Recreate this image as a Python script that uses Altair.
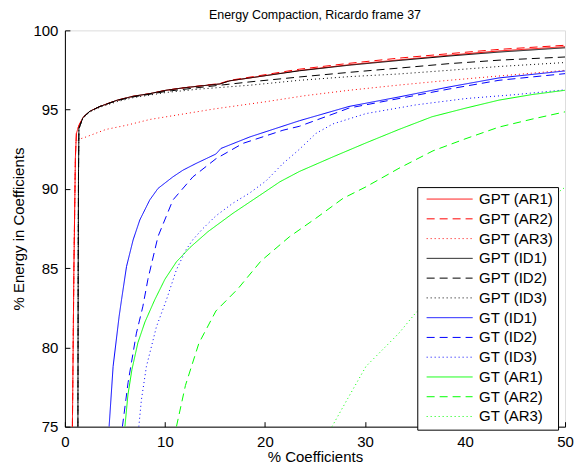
import altair as alt
import pandas as pd

names = ["GPT (AR1)", "GPT (AR2)", "GPT (AR3)", "GPT (ID1)", "GPT (ID2)", "GPT (ID3)",
         "GT (ID1)", "GT (ID2)", "GT (ID3)", "GT (AR1)", "GT (AR2)", "GT (AR3)"]
colors = ["#ff0000", "#ff0000", "#ff0000", "#000000", "#000000", "#000000",
          "#0000ff", "#0000ff", "#0000ff", "#00ff00", "#00ff00", "#00ff00"]
dashes = [[1, 0], [8, 5], [1, 3]] * 4

gpt_ar1_x = [0.75, 0.9, 1.05, 1.15, 1.4, 1.8, 2.5, 3.5, 5.2, 6.8, 8.5, 10.1, 11.8, 13.5, 15.5, 16.5, 18.5, 23.45, 28.4, 33.4, 38.4, 43.4, 50]
gpt_ar1_y = [75, 85, 92, 93.5, 94.0, 94.5, 94.9, 95.2, 95.59, 95.84, 96.01, 96.22, 96.37, 96.49, 96.62, 96.82, 97.0, 97.47, 97.83, 98.14, 98.43, 98.7, 98.97]

gpt_ar2_x = [0.75, 0.9, 1.05, 1.15, 1.4, 1.8, 2.5, 3.5, 5.2, 6.8, 8.5, 10.1, 11.8, 13.5, 15.5, 16.5, 18.5, 23.45, 28.4, 33.4, 38.4, 43.4, 50]
gpt_ar2_y = [75, 85, 92, 93.5, 94.0, 94.5, 94.9, 95.2, 95.59, 95.84, 96.01, 96.22, 96.37, 96.5, 96.65, 96.85, 97.05, 97.55, 97.92, 98.25, 98.53, 98.8, 99.06]

gpt_ar3_x = [0.75, 0.9, 1.05, 1.1, 1.5, 2.0, 4.1, 6.2, 8.5, 11.8, 15.0, 20.1, 24.0, 28.4, 33.4, 38.4, 43.4, 50]
gpt_ar3_y = [75, 85, 92, 93.0, 93.15, 93.25, 93.75, 94.02, 94.38, 94.72, 95.05, 95.5, 95.88, 96.22, 96.55, 96.85, 97.12, 97.48]

gpt_id1_x = [1.30, 1.33, 1.36, 1.40, 1.8, 2.5, 3.5, 5.2, 6.8, 8.5, 10.1, 11.8, 13.5, 15.5, 16.5, 18.5, 23.45, 28.4, 33.4, 38.4, 43.4, 50]
gpt_id1_y = [75, 85, 91, 93.8, 94.5, 94.9, 95.2, 95.59, 95.84, 96.01, 96.22, 96.37, 96.49, 96.62, 96.82, 97.0, 97.45, 97.8, 98.1, 98.38, 98.63, 98.9]

gpt_id2_x = [1.30, 1.33, 1.36, 1.40, 1.8, 2.5, 3.5, 5.2, 6.8, 8.5, 10.1, 13.5, 18.5, 23.45, 28.4, 33.4, 38.4, 43.4, 50]
gpt_id2_y = [75, 85, 91, 93.8, 94.5, 94.9, 95.2, 95.57, 95.8, 95.97, 96.15, 96.4, 96.75, 97.06, 97.35, 97.62, 97.9, 98.12, 98.32]

gpt_id3_x = [1.30, 1.33, 1.36, 1.40, 1.8, 2.5, 3.5, 5.2, 6.8, 8.5, 10.1, 13.5, 18.5, 23.45, 28.4, 33.4, 38.4, 43.4, 50]
gpt_id3_y = [75, 85, 91, 93.8, 94.45, 94.85, 95.15, 95.5, 95.75, 95.92, 96.08, 96.3, 96.54, 96.85, 97.08, 97.25, 97.48, 97.72, 97.97]

gt_id1_x = [4.42, 4.82, 5.42, 5.66, 6.16, 6.82, 7.49, 8.48, 9.31, 10.8, 11.8, 13.1, 15.1, 15.6, 18.5, 23.45, 28.4, 33.4, 38.4, 43.4, 50]
gt_id1_y = [75, 78.8, 81.95, 83.0, 85.1, 86.78, 88.04, 89.3, 90.03, 90.76, 91.18, 91.6, 92.2, 92.55, 93.28, 94.3, 95.2, 95.8, 96.43, 97.0, 97.44]

gt_id2_x = [5.75, 6.32, 7.15, 7.8, 8.3, 9.31, 10.8, 12.8, 15.1, 17.8, 21.8, 23.45, 27.4, 28.4, 33.4, 38.4, 43.4, 50]
gt_id2_y = [75, 77.8, 80.9, 82.6, 84.3, 87.0, 89.3, 90.76, 91.9, 92.87, 93.7, 93.95, 94.86, 95.1, 95.7, 96.3, 96.85, 97.27]

gt_id3_x = [7.39, 7.65, 8.15, 9.15, 10.15, 11.15, 12.1, 12.8, 13.8, 15.1, 16.8, 18.5, 20.1, 21.8, 23.45, 25.1, 26.8, 30.1, 35.1, 40.1, 45.1, 50]
gt_id3_y = [75, 76.7, 78.8, 81.3, 83.0, 84.9, 86.15, 86.8, 87.5, 88.3, 89.1, 89.75, 90.5, 91.6, 92.5, 93.5, 94.1, 94.75, 95.3, 95.7, 95.95, 96.25]

gt_ar1_x = [6.0, 6.3, 6.7, 7.3, 8.0, 8.98, 10.0, 11.15, 12.5, 14.3, 16.8, 19.5, 21.5, 23.45, 26.8, 30.1, 33.4, 36.7, 40.1, 43.4, 46.7, 50]
gt_ar1_y = [75, 77, 78.6, 80.3, 81.6, 83.0, 84.3, 85.4, 86.3, 87.3, 88.46, 89.6, 90.45, 91.1, 92.02, 92.9, 93.75, 94.55, 95.1, 95.6, 95.95, 96.22]

gt_ar2_x = [11.15, 12.05, 13.4, 15.1, 17.3, 19.6, 22.45, 25.1, 27.8, 30.1, 33.4, 36.8, 40.0, 43.4, 46.7, 50]
gt_ar2_y = [75, 77.6, 80.27, 82.3, 83.7, 85.45, 86.98, 88.15, 89.4, 90.13, 91.3, 92.4, 93.15, 93.9, 94.4, 94.86]

gt_ar3_x = [26.7, 28.3, 30.1, 33.4, 35.1, 40.0, 45.0, 50]
gt_ar3_y = [75, 76.8, 78.8, 80.9, 82.2, 85.2, 87.8, 90.1]

x_ticks = [0, 10, 20, 30, 40, 50]
y_ticks = [75, 80, 85, 90, 95, 100]

series_xy = [
    (gpt_ar1_x, gpt_ar1_y), (gpt_ar2_x, gpt_ar2_y), (gpt_ar3_x, gpt_ar3_y),
    (gpt_id1_x, gpt_id1_y), (gpt_id2_x, gpt_id2_y), (gpt_id3_x, gpt_id3_y),
    (gt_id1_x, gt_id1_y), (gt_id2_x, gt_id2_y), (gt_id3_x, gt_id3_y),
    (gt_ar1_x, gt_ar1_y), (gt_ar2_x, gt_ar2_y), (gt_ar3_x, gt_ar3_y),
]

rows = []
for name, (xs, ys) in zip(names, series_xy):
    for i, (xv, yv) in enumerate(zip(xs, ys)):
        rows.append({"series": name, "x": xv, "y": yv, "idx": i})
df = pd.DataFrame(rows)

FONT = "Liberation Sans"
xscale = alt.Scale(domain=[0, 50], nice=False, zero=False)
yscale = alt.Scale(domain=[75, 100], nice=False, zero=False)

legend = alt.Legend(
    orient="none", legendX=353, legendY=157, title=None,
    padding=4.5, rowPadding=3.8, clipHeight=15, symbolType="stroke", symbolSize=2116,
    symbolStrokeWidth=1, symbolOffset=4.4, labelOffset=6,
    labelFontSize=15, labelFont=FONT, labelColor="black",
    strokeColor="black", fillColor="white", labelLimit=0,
)

lines = alt.Chart(df).mark_line(strokeWidth=1, clip=True).encode(
    x=alt.X("x:Q", scale=xscale,
            axis=alt.Axis(orient="bottom", values=x_ticks, ticks=False, tickSize=0,
                          domain=True, domainColor="black", labelFlush=False,
                          labelFontSize=15, labelFont=FONT, labelColor="black",
                          labelPadding=8, title="% Coefficients", titleFontSize=15,
                          titleFont=FONT, titleFontWeight="normal", titleColor="black",
                          titlePadding=0, grid=False)),
    y=alt.Y("y:Q", scale=yscale,
            axis=alt.Axis(orient="left", values=y_ticks, ticks=False, tickSize=0,
                          domain=True, domainColor="black",
                          labelFontSize=15, labelFont=FONT, labelColor="black",
                          labelPadding=7, title="% Energy in Coefficients", titleFontSize=15,
                          titleFont=FONT, titleFontWeight="normal", titleColor="black",
                          titlePadding=6, grid=False)),
    color=alt.Color("series:N", scale=alt.Scale(domain=names, range=colors), legend=legend),
    strokeDash=alt.StrokeDash("series:N", scale=alt.Scale(domain=names, range=dashes), legend=legend),
    order="idx:Q",
)

ticks = alt.Chart(df).mark_point(opacity=0, size=1).encode(
    x=alt.X("x:Q", scale=xscale,
            axis=alt.Axis(orient="bottom", values=x_ticks, offset=-5, domain=False,
                          labels=False, ticks=True, tickSize=5, tickColor="black",
                          title=None, grid=False)),
    y=alt.Y("y:Q", scale=yscale,
            axis=alt.Axis(orient="left", values=y_ticks, offset=-5, domain=False,
                          labels=False, ticks=True, tickSize=5, tickColor="black",
                          title=None, grid=False)),
)

chart = alt.layer(lines, ticks).resolve_axis(x="independent", y="independent").properties(
    width=501, height=397,
    autosize=alt.AutoSizeParams(type="none"),
    padding={"left": 57, "top": 22, "right": 12, "bottom": 39},
    title=alt.TitleParams("Energy Compaction, Ricardo frame 37", fontSize=12.5, font=FONT,
                          fontWeight="normal", color="black", anchor="middle",
                          frame="group", offset=2),
).configure_view(stroke=None).configure(background="white")

chart.save("out.html", embed_options={"renderer": "svg", "actions": False})
